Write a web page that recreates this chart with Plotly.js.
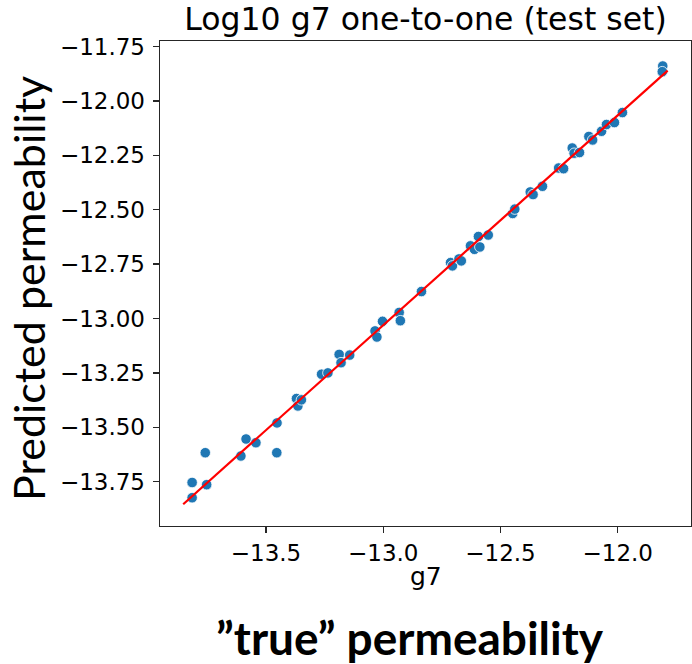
<!DOCTYPE html>
<html>
<head>
<meta charset="utf-8">
<script src="https://cdn.plot.ly/plotly-3.0.1.min.js"></script>
<style>html,body{margin:0;padding:0;background:#fff}#chart{width:692px;height:664px}</style>
</head>
<body>
<div id="chart"></div>
<script>
// true (g7) values
const trueVals = [-13.815,-13.815,-13.753,-13.759,-13.607,-13.585,-13.543,-13.454,-13.453,-13.370,
  -13.364,-13.349,-13.263,-13.236,-13.188,-13.180,-13.143,-13.035,-13.027,-13.003,
  -12.932,-12.927,-12.837,-12.713,-12.705,-12.677,-12.667,-12.628,-12.611,-12.594,
  -12.588,-12.552,-12.448,-12.439,-12.373,-12.361,-12.321,-12.252,-12.231,-12.194,
  -12.186,-12.163,-12.123,-12.107,-12.069,-12.048,-12.014,-11.980,-11.808,-11.810];
// predicted values
const predVals = [-13.824,-13.754,-13.764,-13.617,-13.632,-13.554,-13.571,-13.617,-13.480,-13.368,
  -13.402,-13.374,-13.256,-13.250,-13.165,-13.203,-13.168,-13.057,-13.085,-13.013,
  -12.972,-13.010,-12.876,-12.743,-12.758,-12.726,-12.735,-12.666,-12.682,-12.623,
  -12.671,-12.616,-12.517,-12.497,-12.418,-12.430,-12.392,-12.308,-12.311,-12.216,
  -12.240,-12.237,-12.163,-12.179,-12.139,-12.108,-12.099,-12.053,-11.839,-11.865];
// reference line endpoints
const lineX = [-13.853, -11.787];
const lineY = [-13.854, -11.860];
// ticks
const xTicks = [-13.5, -13.0, -12.5, -12.0];
const xTickText = ["\u221213.5", "\u221213.0", "\u221212.5", "\u221212.0"];
const yTicks = [-11.75, -12.00, -12.25, -12.50, -12.75, -13.00, -13.25, -13.50, -13.75];
const yTickText = ["\u221211.75", "\u221212.00", "\u221212.25", "\u221212.50", "\u221212.75", "\u221213.00", "\u221213.25", "\u221213.50", "\u221213.75"];

const titleText = "Log10 g7 one-to-one (test set)";
const xLabel = "g7";
const yLabel = "Predicted permeability";
const bottomLabel = "\u201dtrue\u201d permeability";

const tickFont = {family: "DejaVu Sans", size: 23, color: "#000"};

const data = [
  {type: "scatter", mode: "markers", x: trueVals, y: predVals,
   marker: {color: "#1f77b4", size: 10.5, line: {color: "#ffffff", width: 0.8}},
   hoverinfo: "skip", showlegend: false},
  {type: "scatter", mode: "lines", x: lineX, y: lineY,
   line: {color: "#ff0000", width: 2.2}, hoverinfo: "skip", showlegend: false}
];

const axisCommon = {
  showgrid: false, zeroline: false, showline: true, mirror: true,
  linecolor: "#262626", linewidth: 1.4,
  ticks: "outside", ticklen: 6, tickwidth: 1.4, tickcolor: "#262626",
  tickfont: tickFont, tickmode: "array"
};

const layout = {
  width: 692, height: 664,
  margin: {l: 160, r: 1, t: 41, b: 138},
  paper_bgcolor: "#fff", plot_bgcolor: "#fff",
  title: {text: titleText, font: {family: "DejaVu Sans", size: 31.5, color: "#000"},
          xref: "paper", x: 0.5, xanchor: "center", yref: "container", y: 0.972, yanchor: "middle"},
  xaxis: Object.assign({}, axisCommon, {range: [-13.952, -11.6875], tickvals: xTicks, ticktext: xTickText}),
  yaxis: Object.assign({}, axisCommon, {range: [-13.954, -11.724], tickvals: yTicks, ticktext: yTickText, ticklabelstandoff: 3}),
  annotations: [
    {text: xLabel, xref: "paper", yref: "paper", x: 0.5, y: -0.105, showarrow: false,
     xanchor: "center", yanchor: "middle", font: {family: "DejaVu Sans", size: 25, color: "#000"}},
    {text: yLabel, xref: "paper", yref: "paper", x: -0.2486, y: 0.4907, showarrow: false, textangle: -90,
     xanchor: "center", yanchor: "middle", font: {family: "Lato", size: 43, color: "#000"}},
    {text: "<b>" + bottomLabel + "</b>", xref: "paper", yref: "paper", x: 0.4708, y: -0.229, showarrow: false,
     xanchor: "center", yanchor: "middle", font: {family: "Lato", size: 46, color: "#000"}}
  ]
};

Plotly.newPlot("chart", data, layout, {staticPlot: true, displayModeBar: false});
</script>
</body>
</html>
